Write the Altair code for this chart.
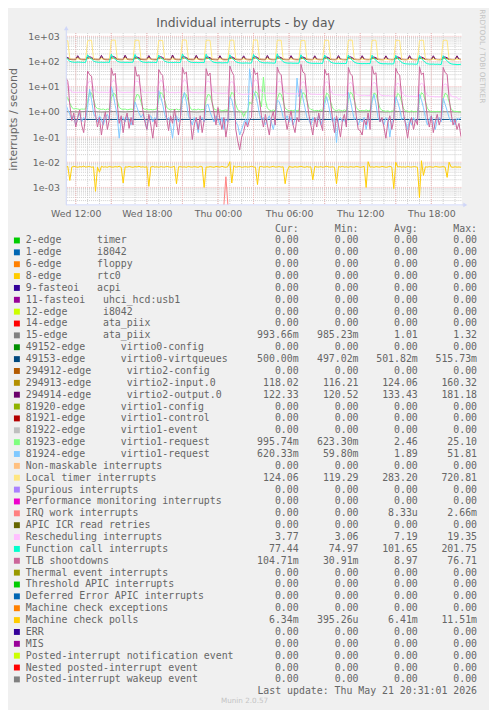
import math
import altair as alt
import pandas as pd

NBSP = "\u00a0"
SANS = "DejaVu Sans"
MONO = "DejaVu Sans Mono"
FONT_COLOR = "#666666"
AXIS_COLOR = "#CFD6F8"
MARK_COLOR = "#C4C4C4"

TITLE = "Individual interrupts - by day"
Y_TITLE = "interrupts / second"
LAST_UPDATE = "Last update: Thu May 21 20:31:01 2026"
WATERMARK = "Munin 2.0.57"
RRD_MARK = "RRDTOOL / TOBI OETIKER"
HEADERS = ["Cur:", "Min:", "Avg:", "Max:"]

# ---------------- axes (x in hours since Wed 00:00) ----------------
X_START, X_END = 11.2, 44.533
x_tick_hours = [12, 18, 24, 30, 36, 42]
x_tick_labels = ["Wed 12:00", "Wed 18:00", "Thu 00:00", "Thu 06:00", "Thu 12:00", "Thu 18:00"]
x_minor_hours = list(range(12, 45))
x_major_hours = list(range(12, 45, 3))

Y_MIN, Y_MAX = 2.02e-4, 1346
y_tick_values = [1e-3, 1e-2, 1e-1, 1e0, 1e1, 1e2, 1e3]
y_tick_labels = ["1e-03", "1e-02", "1e-01", "1e+00", "1e+01", "1e+02", "1e+03"]
y_minor_values = [m * 10.0 ** e for e in range(-4, 3) for m in range(2, 10)
                  if Y_MIN < m * 10.0 ** e < Y_MAX]

# ---------------- samples: every 10 min from Wed 11:10 ----------------
sample_hours = [11 + 10 / 60 + k / 6 for k in range(201)]

# Local timer interrupts (one line = one 2-hour cycle, starting at a burst)
loc_values = [
    690, 660, 128, 126, 125, 127, 126, 125, 124, 126, 125, 650,
    700, 690, 127, 125, 126, 124, 127, 125, 126, 124, 125, 680,
    710, 700, 126, 125, 124, 126, 125, 127, 125, 124, 126, 690,
    700, 690, 127, 126, 125, 124, 126, 125, 124, 126, 125, 670,
    690, 680, 126, 125, 127, 125, 124, 126, 125, 124, 126, 700,
    720, 700, 128, 126, 125, 124, 126, 125, 127, 125, 124, 690,
    700, 690, 127, 125, 124, 126, 125, 124, 126, 125, 124, 680,
    710, 690, 126, 124, 125, 123, 125, 124, 123, 125, 124, 700,
    715, 705, 127, 125, 124, 125, 123, 124, 125, 123, 124, 690,
    700, 690, 126, 124, 123, 125, 124, 123, 124, 125, 123, 670,
    690, 680, 125, 124, 123, 122, 124, 123, 124, 122, 123, 680,
    700, 690, 126, 123, 124, 122, 123, 124, 122, 123, 124, 690,
    710, 695, 125, 123, 122, 124, 123, 122, 123, 124, 122, 680,
    700, 690, 124, 123, 122, 121, 123, 122, 121, 123, 122, 690,
    695, 680, 124, 122, 123, 121, 122, 123, 121, 122, 121, 670,
    700, 690, 125, 122, 121, 123, 122, 121, 120, 122, 121, 680,
    700, 685, 124, 122, 121, 123, 122, 121, 124.06,
]

# 294914-edge virtio2-output.0
v2out_values = [
    152, 142, 127, 123, 122, 124, 170, 128, 123, 122, 123, 150,
    155, 145, 128, 124, 123, 122, 175, 127, 123, 122, 124, 152,
    158, 146, 127, 123, 122, 123, 178, 128, 124, 123, 122, 150,
    150, 140, 126, 123, 122, 124, 172, 127, 123, 122, 123, 148,
    156, 144, 127, 124, 123, 122, 181, 128, 123, 122, 123, 154,
    154, 143, 128, 123, 122, 123, 176, 127, 124, 122, 123, 150,
    150, 141, 126, 123, 122, 121, 170, 126, 122, 121, 122, 148,
    152, 140, 125, 122, 121, 122, 168, 126, 122, 121, 122, 150,
    156, 144, 127, 123, 122, 121, 174, 127, 122, 121, 122, 152,
    153, 142, 126, 122, 121, 122, 171, 126, 122, 121, 122, 149,
    150, 140, 125, 122, 121, 120.5, 169, 125, 122, 121, 122, 148,
    151, 141, 126, 122, 121, 122, 172, 126, 122, 121, 121, 150,
    154, 142, 126, 122, 121, 122, 170, 125, 122, 121, 122, 149,
    150, 140, 125, 122, 121, 122, 168, 125, 122, 121, 122, 147,
    152, 141, 125, 122, 121, 122, 171, 126, 122, 121, 122, 148,
    150, 140, 125, 122, 121, 122, 169, 125, 122, 121, 122, 150,
    151, 141, 125, 122, 121, 122, 168, 125, 122.33,
]

# 294913-edge virtio2-input.0
v2in_values = [
    135, 130, 121, 118, 117, 118, 150, 121, 118, 117, 118, 133,
    137, 131, 122, 118, 117, 117, 155, 122, 118, 117, 118, 134,
    138, 132, 121, 118, 117, 118, 158, 121, 118, 117, 117, 133,
    134, 129, 120, 118, 117, 118, 152, 121, 118, 117, 118, 132,
    137, 131, 121, 118, 117, 117, 160, 122, 118, 117, 118, 135,
    136, 130, 121, 118, 117, 118, 156, 121, 118, 117, 118, 133,
    134, 129, 120, 118, 117, 116.5, 150, 120, 117, 117, 118, 132,
    135, 129, 120, 117, 117, 118, 149, 120, 117, 116.2, 117, 133,
    137, 131, 121, 118, 117, 117, 154, 121, 118, 117, 118, 134,
    135, 130, 120, 118, 117, 118, 151, 120, 118, 117, 117, 132,
    134, 129, 120, 118, 117, 117, 150, 120, 118, 117, 118, 132,
    135, 130, 120, 118, 117, 118, 152, 121, 118, 117, 117, 133,
    136, 130, 120, 118, 117, 118, 151, 120, 118, 117, 118, 132,
    134, 129, 120, 118, 117, 117, 149, 120, 118, 117, 118, 131,
    135, 129, 120, 118, 117, 118, 151, 120, 118, 117, 118, 132,
    134, 129, 120, 118, 117, 118, 150, 120, 118, 117, 117, 133,
    135, 129, 120, 118, 117, 118, 149, 120, 118.02,
]

# Function call interrupts
cal_values = [
    150, 120, 102, 96, 94, 93, 95, 94, 93, 92, 93, 185,
    145, 125, 105, 97, 94, 93, 94, 92, 93, 94, 92, 195,
    140, 122, 103, 96, 93, 94, 92, 93, 92, 93, 94, 190,
    138, 120, 102, 95, 93, 92, 94, 92, 93, 92, 91, 180,
    142, 124, 104, 96, 92, 93, 91, 92, 93, 91, 92, 200,
    145, 125, 105, 95, 92, 91, 92, 90, 91, 92, 90, 195,
    140, 120, 100, 93, 90, 89, 90, 88, 89, 90, 88, 185,
    136, 118, 98, 91, 88, 87, 86, 88, 87, 86, 88, 190,
    142, 122, 100, 92, 89, 88, 89, 87, 88, 86, 87, 201,
    138, 120, 98, 90, 87, 86, 87, 85, 86, 85, 86, 185,
    135, 117, 96, 89, 86, 85, 84, 85, 84, 85, 84, 180,
    134, 116, 95, 88, 85, 84, 85, 83, 84, 83, 84, 182,
    132, 115, 94, 87, 84, 83, 82, 83, 82, 83, 82, 178,
    130, 113, 92, 85, 82, 81, 82, 80, 81, 80, 81, 175,
    128, 112, 91, 84, 81, 80, 79, 80, 79, 78, 79, 172,
    127, 110, 90, 82, 79, 78, 79, 77, 78, 77, 76, 170,
    125, 108, 88, 81, 78, 77, 75, 76, 77.44,
]

# Rescheduling interrupts
res_values = [
    15, 13, 8, 6.2, 5.9, 6, 5.8, 6.1, 5.9, 5.8, 6, 13,
    17, 15, 8.5, 6.3, 6, 5.8, 6.1, 5.9, 6, 5.8, 5.9, 14,
    18, 16, 9, 6.4, 6, 5.9, 5.8, 6, 5.9, 6.1, 5.8, 15,
    17, 15, 8, 6.2, 5.9, 5.8, 6, 5.7, 5.9, 5.8, 6, 13,
    18, 16, 8.8, 6.3, 6, 5.8, 5.9, 5.7, 5.8, 6, 5.7, 14,
    19, 16, 9, 6.1, 5.8, 5.7, 5.9, 5.6, 5.8, 5.7, 5.6, 15,
    17, 15, 8, 6, 5.7, 5.5, 5.6, 5.4, 5.5, 5.6, 5.4, 14,
    16, 14, 7.5, 5.5, 5.2, 5, 4.9, 5.1, 5, 5.2, 5.3, 15,
    19.3, 16, 8.5, 6, 5.6, 5.5, 5.6, 5.4, 5.5, 5.3, 5.4, 14,
    17, 15, 8, 5.8, 5.4, 5.3, 5.2, 5.3, 5.1, 5.2, 5.1, 13,
    16, 14, 7.5, 5.5, 5.1, 5, 5.1, 4.9, 5, 4.9, 5, 13,
    16, 14, 7.2, 5.2, 4.9, 4.8, 4.7, 4.8, 4.6, 4.7, 4.8, 12,
    15, 13, 7, 5, 4.7, 4.6, 4.5, 4.6, 4.5, 4.4, 4.5, 12,
    15, 13, 6.8, 4.9, 4.5, 4.4, 4.3, 4.4, 4.3, 4.2, 4.3, 11,
    14, 12, 6.5, 4.7, 4.3, 4.2, 4.1, 4.2, 4.1, 4.0, 4.1, 11,
    14, 12, 6.3, 4.5, 4.2, 4.0, 4.1, 3.9, 4.0, 3.9, 4.0, 11,
    13, 11.5, 6, 4.3, 4, 3.9, 3.8, 3.06, 3.77,
]

# 81923-edge virtio1-request
v1r3_values = [
    4, 3.5, 2.2, 1.5, 1.3, 1.35, 1.3, 1.25, 1.3, 1.28, 1.3, 2.5,
    6, 5.5, 3.2, 1.6, 1.35, 1.3, 1.25, 1.3, 1.2, 1.3, 1.25, 3.5,
    5.5, 5, 2.8, 1.5, 1.3, 1.25, 1.3, 1.2, 1.25, 1.3, 1.2, 3,
    5, 4.5, 2.5, 1.4, 1.25, 1.3, 1.2, 1.25, 1.2, 1.25, 1.3, 3.2,
    6, 5, 3, 1.5, 1.3, 1.2, 1.25, 1.2, 1.3, 1.2, 1.25, 3.5,
    5.5, 4.8, 2.6, 1.4, 1.2, 1.25, 1.2, 1.3, 1.2, 1.25, 1.2, 3,
    5, 4.5, 2.4, 1.3, 1.2, 1.15, 1.2, 1.1, 1.15, 1.2, 1.1, 3.5,
    6, 5, 2, 1.2, 1.1, 1.0, 0.65, 1.0, 1.1, 2.5, 2, 4,
    6.5, 5.5, 3, 1.6, 24, 3, 1.4, 1.2, 1.1, 1.2, 1.1, 3.2,
    5.5, 5, 2.7, 1.4, 1.2, 1.1, 1.15, 1.1, 1.2, 1.1, 1.15, 3.5,
    5.8, 5, 2.8, 1.5, 1.25, 1.2, 1.1, 1.15, 1.1, 1.2, 1.1, 3,
    5.5, 4.8, 2.5, 1.4, 1.2, 1.1, 1.2, 1.15, 1.1, 1.2, 1.1, 3.2,
    6, 5.2, 2.8, 1.5, 1.2, 1.1, 1.15, 1.1, 1.2, 1.1, 1.15, 3,
    5.6, 5, 2.6, 1.4, 1.15, 1.1, 1.05, 1.1, 1.0, 1.1, 1.05, 3.2,
    5.4, 4.6, 2.4, 1.3, 1.1, 1.05, 1.0, 1.1, 1.0, 1.05, 1.0, 3,
    5.8, 5, 2.6, 1.4, 1.1, 1.0, 1.05, 1.0, 1.05, 1.0, 1.0, 3.2,
    5.5, 4.8, 2.5, 1.3, 1.1, 1.0, 1.05, 0.98, 0.996,
]

# 81924-edge virtio1-request
v1r4_values = [
    2.0, 1.2, 0.8, 0.5, 0.7, 0.3, 0.6, 0.9, 0.4, 0.6, 0.5, 1.5,
    8, 3, 0.9, 0.6, 0.4, 0.7, 0.5, 0.3, 0.6, 0.8, 0.5, 10,
    5, 1.8, 0.7, 0.09, 0.5, 0.6, 0.4, 0.7, 0.5, 0.3, 0.6, 2.5,
    1.5, 0.9, 0.6, 0.8, 0.5, 0.2, 0.6, 0.7, 0.4, 0.6, 0.5, 7,
    4, 2, 0.8, 0.5, 0.6, 0.3, 0.09, 0.5, 0.7, 0.4, 0.6, 3,
    6, 2.5, 0.7, 0.5, 0.3, 0.6, 0.4, 0.15, 0.5, 0.6, 0.4, 1.8,
    2, 1, 0.6, 0.4, 0.7, 0.5, 0.3, 0.6, 0.2, 0.5, 0.4, 4,
    3, 1.2, 0.4, 0.3, 0.12, 0.2, 0.35, 0.5, 0.3, 51.8, 12, 6,
    5, 2.2, 0.8, 0.5, 0.6, 0.3, 0.5, 0.7, 0.4, 0.2, 0.5, 3,
    2.5, 1.4, 0.6, 0.5, 0.7, 0.4, 0.6, 0.3, 0.5, 22, 4, 8,
    3.5, 1.5, 0.6, 0.5, 0.3, 0.6, 0.4, 0.5, 0.7, 0.3, 0.5, 2,
    4, 1.8, 0.7, 0.4, 0.6, 0.06, 0.5, 0.6, 0.4, 0.5, 0.3, 6,
    3, 1.2, 0.5, 0.6, 0.3, 0.5, 0.4, 0.6, 0.2, 0.5, 0.6, 2.5,
    5, 2, 0.6, 0.4, 0.5, 0.3, 0.6, 0.5, 0.1, 0.4, 0.5, 4,
    2.5, 1.3, 0.5, 0.6, 0.4, 0.2, 0.5, 0.3, 0.6, 0.4, 0.5, 5,
    3, 1.5, 0.6, 0.3, 0.5, 0.7, 0.4, 0.2, 0.5, 0.6, 0.4, 3.5,
    2, 1.1, 0.6, 0.4, 0.5, 0.3, 0.55, 0.5, 0.62,
]

# TLB shootdowns
tlb_values = [
    22, 16, 1.8, 0.45, 0.9, 0.25, 0.6, 1.2, 0.3, 0.15, 0.7, 42,
    30, 26, 3.5, 0.8, 0.25, 0.6, 0.12, 0.45, 1.0, 0.2, 0.5, 55,
    28, 34, 2.2, 0.35, 0.7, 0.15, 0.5, 0.9, 0.22, 0.6, 0.3, 62,
    26, 30, 5.0, 1.1, 0.4, 0.2, 0.8, 0.3, 0.09, 0.5, 0.25, 48,
    34, 28, 2.8, 0.6, 0.18, 0.7, 0.35, 1.3, 0.4, 0.12, 0.55, 58,
    32, 38, 4.0, 0.5, 0.08, 0.3, 0.6, 0.2, 0.7, 0.15, 0.45, 52,
    27, 35, 2.5, 0.9, 0.3, 1.5, 0.5, 0.2, 0.6, 0.1, 0.35, 66,
    40, 28, 0.2, 0.07, 0.031, 0.1, 0.16, 0.4, 0.25, 0.5, 0.6, 55,
    30, 36, 3.0, 0.7, 0.25, 0.8, 0.3, 0.12, 0.55, 1.0, 0.3, 60,
    35, 30, 4.5, 0.6, 0.2, 0.5, 1.1, 0.3, 0.15, 0.6, 0.4, 76.7,
    38, 33, 3.2, 0.8, 0.3, 0.12, 0.6, 0.25, 0.9, 0.35, 0.18, 50,
    29, 34, 2.4, 0.5, 0.15, 0.7, 0.3, 0.1, 0.45, 0.8, 0.25, 58,
    33, 27, 3.8, 0.7, 0.2, 0.18, 0.12, 0.5, 0.3, 0.9, 0.2, 64,
    31, 36, 2.6, 0.4, 0.6, 0.25, 0.09, 0.4, 0.7, 0.2, 0.5, 54,
    34, 29, 3.4, 0.8, 0.3, 0.09, 0.35, 0.6, 0.2, 0.5, 0.3, 62,
    30, 35, 2.9, 0.6, 0.25, 0.7, 0.15, 0.4, 0.8, 0.3, 0.6, 58,
    36, 31, 3.5, 0.9, 0.3, 0.5, 0.2, 0.35, 0.105,
]

# Machine check polls, in milli-interrupts / second
mcp_milli = [
    6.5, 6.8, 1.9, 6.4, 6.9, 6.6, 6.3, 6.7, 6.5, 7.0, 6.4, 6.6,
    6.8, 6.3, 6.6, 0.7, 6.5, 4.0, 6.9, 6.4, 6.6, 6.3, 6.8, 6.5,
    6.4, 6.7, 6.5, 6.9, 6.3, 1.5, 6.6, 6.4, 6.8, 6.5, 6.3, 6.7,
    6.5, 6.9, 6.4, 6.6, 6.3, 6.7, 1.1, 6.5, 6.8, 6.4, 6.6, 6.3,
    6.7, 6.5, 6.4, 6.8, 6.6, 6.3, 6.5, 6.9, 1.4, 6.5, 6.7, 6.4,
    6.6, 6.3, 6.8, 6.5, 6.4, 6.7, 6.5, 6.3, 6.9, 6.6, 1.0, 6.5,
    6.4, 6.7, 6.5, 6.3, 6.8, 6.6, 6.4, 6.9, 6.5, 6.3, 6.7, 10.5,
    1.5, 7.2, 6.4, 6.6, 6.8, 6.3, 6.5, 6.7, 6.4, 6.6, 6.9, 6.5,
    6.3, 1.3, 6.6, 6.8, 6.4, 6.5, 6.7, 6.3, 6.6, 6.9, 6.4, 6.5,
    6.7, 6.4, 6.6, 1.4, 4.5, 6.8, 6.5, 6.3, 6.7, 6.4, 6.6, 6.9,
    6.5, 6.3, 6.7, 6.4, 6.6, 2.0, 6.8, 6.5, 6.4, 6.7, 6.3, 6.6,
    6.9, 6.5, 6.4, 6.6, 6.3, 1.4, 6.7, 6.5, 6.8, 6.4, 6.6, 6.3,
    6.7, 6.5, 6.4, 6.8, 6.6, 6.3, 6.5, 6.9, 1.0, 10.5, 6.4, 6.6,
    6.3, 6.7, 6.5, 6.4, 6.8, 6.6, 6.3, 6.5, 6.9, 6.4, 0.9, 10.0,
    6.5, 6.7, 6.4, 6.6, 6.3, 6.8, 6.5, 6.4, 6.7, 6.6, 6.3, 0.395,
    11.5, 3.0, 6.6, 6.4, 6.7, 6.5, 6.3, 6.8, 6.6, 6.4, 6.5, 6.7,
    6.4, 2.5, 10.0, 6.5, 6.3, 6.6, 6.4, 6.5, 6.34,
]

# 15-edge ata_piix, hourly samples
edge15_hours = sample_hours[::6] + [sample_hours[200]]
edge15_values = [1.02, 1.0, 1.04, 0.99, 1.03, 1.0, 1.05, 0.99, 1.02, 1.0,
                 1.04, 0.99, 1.03, 1.0, 1.02, 0.99, 1.04, 1.0, 1.03, 0.99,
                 1.02, 1.0, 1.04, 0.99, 1.03, 1.0, 1.02, 0.99, 1.03, 1.0,
                 1.02, 0.99, 1.01, 1.0, 0.994]

# 49153-edge virtio0-virtqueues
v0q_hours = [sample_hours[0], sample_hours[100], sample_hours[200]]
v0q_values = [0.5, 0.502, 0.5]

# IRQ work interrupts (single burst)
iwi_hours = [sample_hours[80], sample_hours[81], sample_hours[82]]
iwi_values = [0.0, 0.00266, 0.0]

# ---------------- legend ----------------
legend_names = [
    "2-edge      timer", "1-edge      i8042", "6-edge      floppy", "8-edge      rtc0",
    "9-fasteoi   acpi", "11-fasteoi   uhci_hcd:usb1", "12-edge      i8042",
    "14-edge      ata_piix", "15-edge      ata_piix", "49152-edge      virtio0-config",
    "49153-edge      virtio0-virtqueues", "294912-edge      virtio2-config",
    "294913-edge      virtio2-input.0", "294914-edge      virtio2-output.0",
    "81920-edge      virtio1-config", "81921-edge      virtio1-control",
    "81922-edge      virtio1-event", "81923-edge      virtio1-request",
    "81924-edge      virtio1-request", "Non-maskable interrupts", "Local timer interrupts",
    "Spurious interrupts", "Performance monitoring interrupts", "IRQ work interrupts",
    "APIC ICR read retries", "Rescheduling interrupts", "Function call interrupts",
    "TLB shootdowns", "Thermal event interrupts", "Threshold APIC interrupts",
    "Deferred Error APIC interrupts", "Machine check exceptions", "Machine check polls",
    "ERR", "MIS", "Posted-interrupt notification event", "Nested posted-interrupt event",
    "Posted-interrupt wakeup event",
]
legend_colors = [
    "#00CC00", "#0066B3", "#FF8000", "#FFCC00", "#330099", "#990099", "#CCFF00", "#FF0000",
    "#808080", "#008F00", "#00487D", "#B35A00", "#B38F00", "#6B006B", "#8FB300", "#B30000",
    "#BEBEBE", "#80FF80", "#80C9FF", "#FFC080", "#FFE680", "#AA80FF", "#EE00CC", "#FF8080",
    "#666600", "#FFBFFF", "#00FFCC", "#CC6699", "#999900", "#00CC00", "#0066B3", "#FF8000",
    "#FFCC00", "#330099", "#990099", "#CCFF00", "#FF0000", "#808080",
]
Z = "0.00"
stat_cur = [Z, Z, Z, Z, Z, Z, Z, Z, "993.66m", Z, "500.00m", Z, "118.02", "122.33", Z, Z, Z,
            "995.74m", "620.33m", Z, "124.06", Z, Z, Z, Z, "3.77", "77.44", "104.71m",
            Z, Z, Z, Z, "6.34m", Z, Z, Z, Z, Z]
stat_min = [Z, Z, Z, Z, Z, Z, Z, Z, "985.23m", Z, "497.02m", Z, "116.21", "120.52", Z, Z, Z,
            "623.30m", "59.80m", Z, "119.29", Z, Z, Z, Z, "3.06", "74.97", "30.91m",
            Z, Z, Z, Z, "395.26u", Z, Z, Z, Z, Z]
stat_avg = [Z, Z, Z, Z, Z, Z, Z, Z, "1.01", Z, "501.82m", Z, "124.06", "133.43", Z, Z, Z,
            "2.46", "1.89", Z, "283.20", Z, Z, "8.33u", Z, "7.19", "101.65", "8.97",
            Z, Z, Z, Z, "6.41m", Z, Z, Z, Z, Z]
stat_max = [Z, Z, Z, Z, Z, Z, Z, Z, "1.32", Z, "515.73m", Z, "160.32", "181.18", Z, Z, Z,
            "25.10", "51.81", Z, "720.81", Z, Z, "2.66m", Z, "19.35", "201.75", "76.71",
            Z, Z, Z, Z, "11.51m", Z, Z, Z, Z, Z]

# ---------------- chart ----------------
W, H = 400, 174

y_expr = "".join(
    f"round(log(datum.value)/LN10) == {round(math.log10(v))} ? '{lab}' : "
    for v, lab in zip(y_tick_values, y_tick_labels)) + "''"
x_expr = "".join(f"datum.value == {h} ? '{lab}' : "
                 for h, lab in zip(x_tick_hours, x_tick_labels)) + "''"

x_axis = alt.Axis(values=x_tick_hours, labelExpr=x_expr, domain=False, ticks=False,
                  tickSize=0, grid=False, labelPadding=4, labelFont=SANS, labelFontSize=9.5,
                  labelColor=FONT_COLOR, labelFlush=False, labelOverlap=False, title=None)
y_axis = alt.Axis(values=y_tick_values, labelExpr=y_expr, domain=False, ticks=False,
                  tickSize=0, grid=False, labelPadding=7, labelFont=SANS, labelFontSize=9.5,
                  labelColor=FONT_COLOR, labelOverlap=False, title=Y_TITLE, titleFont=SANS,
                  titleFontSize=11, titleFontWeight="normal", titleColor=FONT_COLOR,
                  titleX=-53, titleY=H / 2, titleAngle=270, titleAlign="center",
                  titleBaseline="middle")

xs = alt.Scale(domain=[X_START, X_END], nice=False, zero=False)
ys = alt.Scale(type="log", domain=[Y_MIN, Y_MAX], nice=False)


def X():
    return alt.X("h:Q", scale=xs, axis=x_axis)


def Y():
    return alt.Y("v:Q", scale=ys, axis=y_axis)


def series(hours, values, color):
    df = pd.DataFrame({"h": hours, "v": [max(v, Y_MIN) for v in values]})
    return alt.Chart(df).mark_line(color=color, strokeWidth=1, clip=True).encode(x=X(), y=Y())


grid = [
    alt.Chart(pd.DataFrame({"h": x_minor_hours})).mark_rule(
        color="#CDCDCD", strokeWidth=1, strokeDash=[1, 1]).encode(x=X()),
    alt.Chart(pd.DataFrame({"v": y_minor_values})).mark_rule(
        color="#CDCDCD", strokeWidth=1, strokeDash=[1, 1]).encode(y=Y()),
    alt.Chart(pd.DataFrame({"h": x_major_hours})).mark_rule(
        color="#F0B8B8", strokeWidth=1, strokeDash=[1, 1]).encode(x=X()),
    alt.Chart(pd.DataFrame({"v": y_tick_values})).mark_rule(
        color="#F0B8B8", strokeWidth=1, strokeDash=[1, 1]).encode(y=Y()),
]

lines = [
    series(edge15_hours, edge15_values, "#808080"),
    series(v0q_hours, v0q_values, "#00487D"),
    series(sample_hours, v2in_values, "#B38F00"),
    series(sample_hours, v2out_values, "#6B006B"),
    series(sample_hours, v1r3_values, "#80FF80"),
    series(sample_hours, v1r4_values, "#80C9FF"),
    series(sample_hours, loc_values, "#FFE680"),
    series(iwi_hours, iwi_values, "#FF8080"),
    series(sample_hours, res_values, "#FFBFFF"),
    series(sample_hours, cal_values, "#00FFCC"),
    series(sample_hours, tlb_values, "#CC6699"),
    series(sample_hours, [m / 1000 for m in mcp_milli], "#FFCC00"),
]

one = pd.DataFrame({"a": [0]})
frame = [
    alt.Chart(one).mark_rule(color=AXIS_COLOR, strokeWidth=1).encode(
        x=alt.value(0), x2=alt.value(W + 4), y=alt.value(H)),
    alt.Chart(one).mark_rule(color=AXIS_COLOR, strokeWidth=1).encode(
        x=alt.value(0), y=alt.value(-5), y2=alt.value(H)),
    alt.Chart(one).mark_point(shape="triangle-right", filled=True, size=22, opacity=1,
                              color=AXIS_COLOR).encode(x=alt.value(W + 4), y=alt.value(H)),
    alt.Chart(one).mark_point(shape="triangle-up", filled=True, size=22, opacity=1,
                              color=AXIS_COLOR).encode(x=alt.value(0), y=alt.value(-5)),
]

plot = alt.layer(*grid, *lines, *frame)


def cell(s):
    return s if s[-1].isalpha() else s + NBSP


leg_df = pd.DataFrame({
    "row": list(range(len(legend_names))),
    "label": [s.replace(" ", NBSP) for s in legend_names],
    "color": legend_colors,
    "cur": [cell(s) for s in stat_cur],
    "min": [cell(s) for s in stat_min],
    "avg": [cell(s) for s in stat_avg],
    "max": [cell(s) for s in stat_max],
})
leg_y = alt.Y("row:Q", scale=alt.Scale(domain=[0, 37], range=[210, 654.4]), axis=None)
col_right = [235.3, 295.9, 355.9, 415.9]

lb = alt.Chart(leg_df)
legend_layers = [
    lb.mark_square(size=36, opacity=1).encode(
        x=alt.value(-50), y=leg_y, color=alt.Color("color:N", scale=None)),
    lb.mark_text(align="left", baseline="middle", font=MONO, fontSize=10,
                 color=FONT_COLOR).encode(x=alt.value(-41), y=leg_y, text="label:N"),
]
for col, xr in zip(["cur", "min", "avg", "max"], col_right):
    legend_layers.append(
        lb.mark_text(align="right", baseline="middle", font=MONO, fontSize=10,
                     color=FONT_COLOR).encode(x=alt.value(xr), y=leg_y, text=f"{col}:N"))

hdr_df = pd.DataFrame({"row": [-1]})
for head, xr in zip(HEADERS, col_right):
    legend_layers.append(
        alt.Chart(hdr_df).mark_text(align="right", baseline="middle", font=MONO, fontSize=10,
                                    color=FONT_COLOR, text=head + NBSP * 2).encode(
            x=alt.value(xr), y=leg_y))

legend_layers += [
    alt.Chart(pd.DataFrame({"row": [38]})).mark_text(
        align="right", baseline="middle", font=MONO, fontSize=10, color=FONT_COLOR,
        text=LAST_UPDATE.replace(" ", NBSP)).encode(x=alt.value(col_right[3]), y=leg_y),
    alt.Chart(one).mark_text(
        align="center", baseline="middle", font=SANS, fontSize=7.3, color=MARK_COLOR,
        text=WATERMARK).encode(x=alt.value(180.5), y=alt.value(676.5)),
    alt.Chart(one).mark_text(align="center", baseline="middle", font=SANS, fontSize=12.5,
                             color="#5A5A5A", text=TITLE).encode(
        x=alt.value(181.5), y=alt.value(-9.7)),
    alt.Chart(one).mark_text(align="center", baseline="middle", font=SANS, fontSize=7.4,
                             color=MARK_COLOR, angle=90, text=RRD_MARK).encode(
        x=alt.value(420.5), y=alt.value(23.5)),
]

legend = alt.layer(*legend_layers)

chart = alt.layer(plot, legend).resolve_scale(y="independent").properties(
    width=W, height=H,
    autosize=alt.AutoSizeParams(type="none"),
    padding={"left": 59, "top": 21, "right": 28, "bottom": 507},
).configure(background="#F0F0F0").configure_view(fill="white", stroke="transparent")

chart.save("out.html", embed_options={"renderer": "svg", "actions": False})
